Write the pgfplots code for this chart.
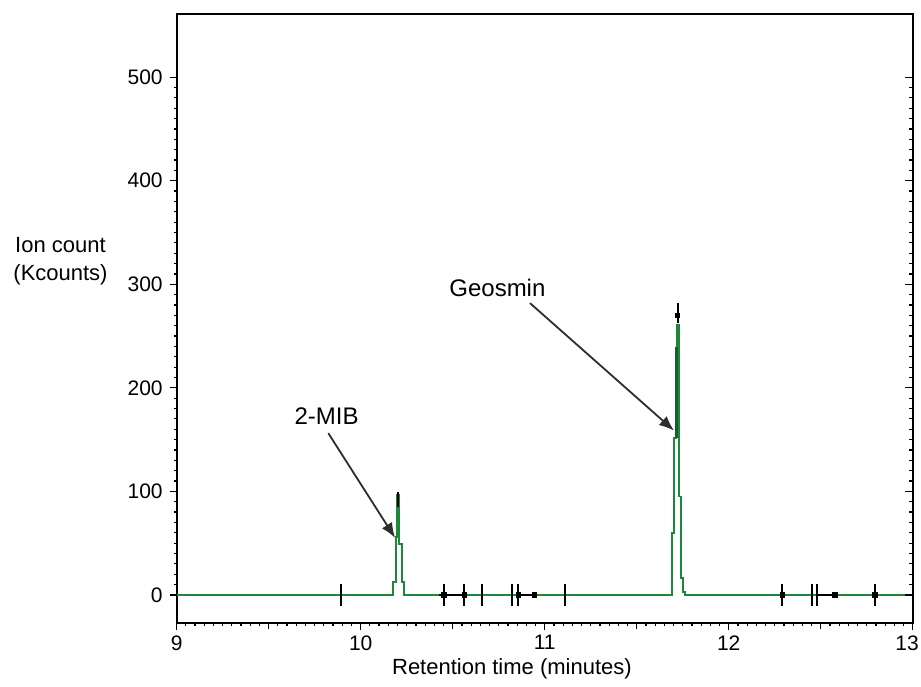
\documentclass[border=0pt]{standalone}
\usepackage{fontspec}
\setmainfont{Liberation Sans}
\usepackage{pgfplots}
\pgfplotsset{compat=1.18}
\usetikzlibrary{arrows.meta}
\definecolor{trace}{RGB}{30,135,60}
\definecolor{arrowgray}{RGB}{45,45,45}

\begin{document}
\begin{tikzpicture}
\begin{axis}[
    name=main,
    scale only axis,
    width=368pt, height=304.65pt,
    xmin=9, xmax=13, ymin=-27.4, ymax=561,
    xtick={9,10,11,12,13},
    xticklabels={9,10,11,12,\makebox[6pt][r]{13}},
    ytick={0,100,200,300,400,500},
    minor x tick num=19,
    minor y tick num=9,
    extra x ticks={9.5,10.5,11.5,12.5},
    extra x tick labels={},
    extra x tick style={major tick length=3pt},
    xtick pos=lower, ytick pos=left,
    tick align=outside,
    major tick length=3.5pt, minor tick length=1.5pt,
    tick style={black, line width=0.6pt},
    axis line style={line width=0.9pt},
    tick label style={font=\fontsize{10.5}{12}\selectfont},
    xticklabel style={yshift=1pt},
    /pgf/number format/assume math mode=true,
    clip=false,
  ]
  % chromatogram trace
  \addplot[trace, line width=0.9pt] coordinates {
    (9,0) (10.177,0) (10.177,12.3) (10.190,12.3) (10.190,55.7) (10.196,55.7)
    (10.196,96.6) (10.210,96.6) (10.210,49) (10.223,49) (10.223,12.3)
    (10.235,12.3) (10.235,0)
    (11.692,0) (11.692,59.6) (11.704,59.6) (11.704,151.4) (11.712,151.4)
    (11.712,238.4) (11.721,238.4) (11.721,260.9) (11.730,260.9) (11.730,95)
    (11.739,95) (11.739,16) (11.750,16) (11.750,3) (11.762,3) (11.762,0)
    (13,0)
  };
  \addplot[trace!70!black, line width=1.6pt] coordinates {
    (11.716,152) (11.716,239)
  };
  % integration markers
  \addplot[only marks, mark=|, mark size=5.4pt, black,
    mark options={line width=0.9pt}] coordinates {
    (9.891,0) (10.453,0) (10.563,0) (10.658,0) (10.824,0) (10.857,0)
    (11.110,0) (12.291,0) (12.454,0) (12.478,0) (12.795,0)
  };
  \addplot[only marks, mark=square*, mark size=1.1pt, black] coordinates {
    (10.453,0) (10.563,0) (10.857,0) (10.943,0) (12.291,0) (12.578,0) (12.795,0)
  };
  \addplot[black, line width=0.9pt, unbounded coords=jump] coordinates {
    (10.424,0) (10.563,0) (10.6,nan)
    (10.857,0) (10.943,0) (11,nan)
    (12.478,0) (12.578,0)
  };
  \addplot[black, line width=1pt] coordinates {(10.204,85) (10.204,99.5)};
  \addplot[black, line width=1pt] coordinates {(11.722,262.8) (11.722,281.8)};
  \addplot[only marks, mark=square*, mark size=1pt, black] coordinates {(11.720,270)};
  % annotations
  \node[font=\fontsize{12}{14}\selectfont] at (axis cs:9.815,172.7) {2-MIB};
  \draw[arrowgray, line width=0.9pt, -{Latex[length=7.5pt,width=6pt]}]
    (axis cs:9.824,156.2) -- (axis cs:10.187,55.1);
  \node[font=\fontsize{12}{14}\selectfont] at (axis cs:10.743,296.3) {Geosmin};
  \draw[arrowgray, line width=0.9pt, -{Latex[length=7.5pt,width=6pt]}]
    (axis cs:10.920,281.8) -- (axis cs:11.703,158.7);
  % axis titles
  \node[font=\fontsize{11}{14}\selectfont, anchor=base, yshift=-25.5pt]
    at (axis cs:10.822,-27.4) {Retention time (minutes)};
  \node[font=\fontsize{11}{14}\selectfont, align=center, xshift=-58.1pt]
    at (axis cs:9,322.7) {Ion count\\(Kcounts)};
\end{axis}
% inward ticks on the right side
\begin{axis}[
    scale only axis,
    width=368pt, height=304.65pt,
    xmin=9, xmax=13, ymin=-27.4, ymax=561,
    hide x axis,
    y axis line style={draw=none},
    ytick={0,100,200,300,400,500},
    yticklabels={},
    minor y tick num=9,
    ytick pos=right,
    tick align=inside,
    major tick length=4pt, minor tick length=2pt,
    tick style={black, line width=0.6pt},
  ]
  \addplot[draw=none] coordinates {(9,0) (13,0)};
\end{axis}
\pgfresetboundingbox
\path ([xshift=-88.35pt, yshift=-31.35pt]main.south west)
  rectangle ([xshift=4.15pt, yshift=7pt]main.north east);
\end{tikzpicture}
\end{document}
